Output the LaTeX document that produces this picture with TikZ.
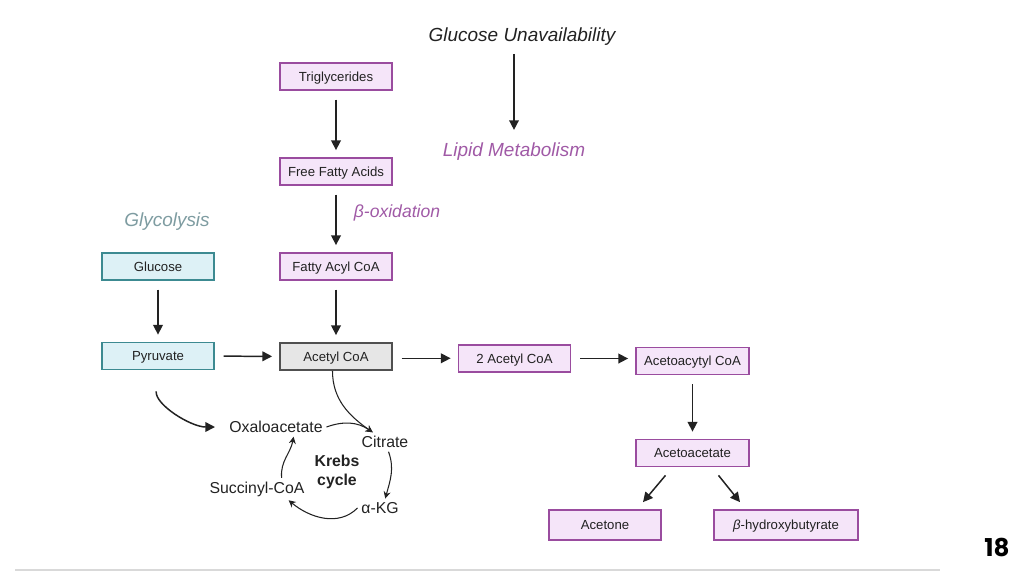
\documentclass[tikz,border=0pt]{standalone}
\usepackage{fontspec}
\setmainfont{Liberation Sans}
\newfontfamily\pagenumfont{Poppins}
\usepackage{tikz}
\usetikzlibrary{arrows.meta}
\usetikzlibrary{positioning}
\usepackage{xcolor}

\definecolor{lipidfill}{HTML}{F5E5F9}
\definecolor{lipiddraw}{HTML}{9A4C9F}
\definecolor{glyfill}{HTML}{DDF1F6}
\definecolor{glydraw}{HTML}{3C8A91}
\definecolor{acetfill}{HTML}{E6E6E6}
\definecolor{acetdraw}{HTML}{505050}
\definecolor{lipidtext}{HTML}{A05AA6}
\definecolor{glytext}{HTML}{7E9CA1}
\definecolor{inkdark}{HTML}{222222}

\begin{document}
\begin{tikzpicture}[x=0.02cm,y=-0.02cm,
		box/.style={draw, line width=1pt, minimum width=2.24cm, minimum height=0.54cm,
			inner sep=0pt, text height=5.4pt, text depth=0pt, text=inkdark,
			font=\fontsize{7.5}{9}\selectfont},
		lipidbox/.style={box, fill=lipidfill, draw=lipiddraw},
		glybox/.style={box, fill=glyfill, draw=glydraw},
		acetbox/.style={box, fill=acetfill, draw=acetdraw},
		heading/.style={font=\fontsize{10.8}{13}\itshape},
		cyclelabel/.style={inner sep=2pt, text=inkdark, font=\fontsize{9}{11}\selectfont},
		arr/.style={-{Triangle[length=5.5pt,width=5.5pt]}, line width=0.85pt, draw=inkdark,
			shorten <=5pt, shorten >=4pt},
		cyc/.style={-{Stealth[length=4pt,width=4pt]}, line width=0.6pt, draw=inkdark}]
		\useasboundingbox (0,0) rectangle (1024,576);
		
		% Headings
		\node[heading, text=inkdark] (gu) at (522,37) {Glucose Unavailability};
		\node[heading, text=lipidtext] (lm) at (514,152) {Lipid Metabolism};
		\node[heading, text=glytext] (gly) at (167,222) {Glycolysis};
		\node[heading, text=lipidtext, font=\fontsize{10}{12}\itshape] (box) at (397,213) {β-oxidation};
		
		% Lipid branch
		\node[lipidbox] (tg) at (336,76.5) {Triglycerides};
		\node[lipidbox] (ffa) at (336,171.5) {Free Fatty Acids};
		\node[lipidbox] (fac) at (336,266.5) {Fatty Acyl CoA};
		
		% Glycolysis branch
		\node[glybox] (glc) at (158,266.5) {Glucose};
		\node[glybox] (pyr) at (158,356) {Pyruvate};
		
		% Acetyl CoA and ketogenesis
		\node[acetbox] (acoa) at (336,356.5) {Acetyl CoA};
		\node[lipidbox] (twoacoa) at (514.5,358.5) {2 Acetyl CoA};
		\node[lipidbox, minimum width=2.26cm] (aacoa) at (692.5,361) {Acetoacytyl CoA};
		\node[lipidbox, minimum width=2.26cm] (aa) at (692.5,453) {Acetoacetate};
		\node[lipidbox, minimum height=0.6cm] (acetone) at (605,525) {Acetone};
		\node[lipidbox, minimum width=2.88cm, minimum height=0.6cm] (bhb) at (786,525) {\textit{β}-hydroxybutyrate};
		
		% Krebs cycle
		\node[cyclelabel] (oxa) at (276,427) {Oxaloacetate};
		\node[cyclelabel] (cit) at (385,442) {Citrate};
		\node[cyclelabel] (akg) at (380,508) {α-KG};
		\node[cyclelabel] (suc) at (257,489) {Succinyl-CoA};
		\node[cyclelabel, font=\fontsize{9}{11}\bfseries, align=center] (krebs) at (337,472) {Krebs\\cycle};
		
		% Straight arrows
		\draw[arr, shorten <=1pt] (gu.south -| lm.north) -- (lm.north);
		\draw[arr] (tg) -- (ffa);
		\draw[arr] (ffa) -- (fac);
		\draw[arr] (fac) -- (acoa);
		\draw[arr] (glc) -- (pyr);
		\draw[arr] (pyr) -- (acoa);
		\draw[arr] ([yshift=-1pt]acoa.east) -- ([yshift=-1pt]acoa.east -| twoacoa.west);
		\draw[arr] (twoacoa.east) -- (twoacoa.east -| aacoa.west);
		\draw[arr] (aacoa) -- (aa);
		\draw[arr, shorten <=0pt, shorten >=0pt] ([shift={(-27,8)}]aa.south) -- ([shift={(38,-7)}]acetone.north);
		\draw[arr, shorten <=0pt, shorten >=0pt] ([shift={(26,8)}]aa.south) -- ([shift={(-46,-7)}]bhb.north);
		
		% Curved arrows into the cycle
		\draw[arr, shorten <=12pt, shorten >=6pt] (pyr.south) to[out=-95, in=180] (oxa.west);
		\draw[cyc] ([xshift=-2pt]acoa.south) to[out=-90, in=145] ([xshift=-7pt]cit.north);
		\draw[cyc] (oxa.east) to[out=20, in=145] ([xshift=-7pt]cit.north);
		\draw[cyc] ([xshift=2pt]cit.south) to[out=-70, in=75] ([xshift=3pt]akg.north);
		\draw[cyc] (akg.west) to[out=-135, in=-40] ([xshift=18pt]suc.south);
		\draw[cyc] ([xshift=14pt]suc.north) to[out=95, in=-100] ([xshift=10pt]oxa.south);
		
		% Footer
		\draw[black!15, line width=0.6pt] (15,570) -- (940,570);
		\node[font=\pagenumfont\bfseries\fontsize{14}{16}\selectfont] (pagenum) at (997,547) {18};
	\end{tikzpicture}
\end{document}
